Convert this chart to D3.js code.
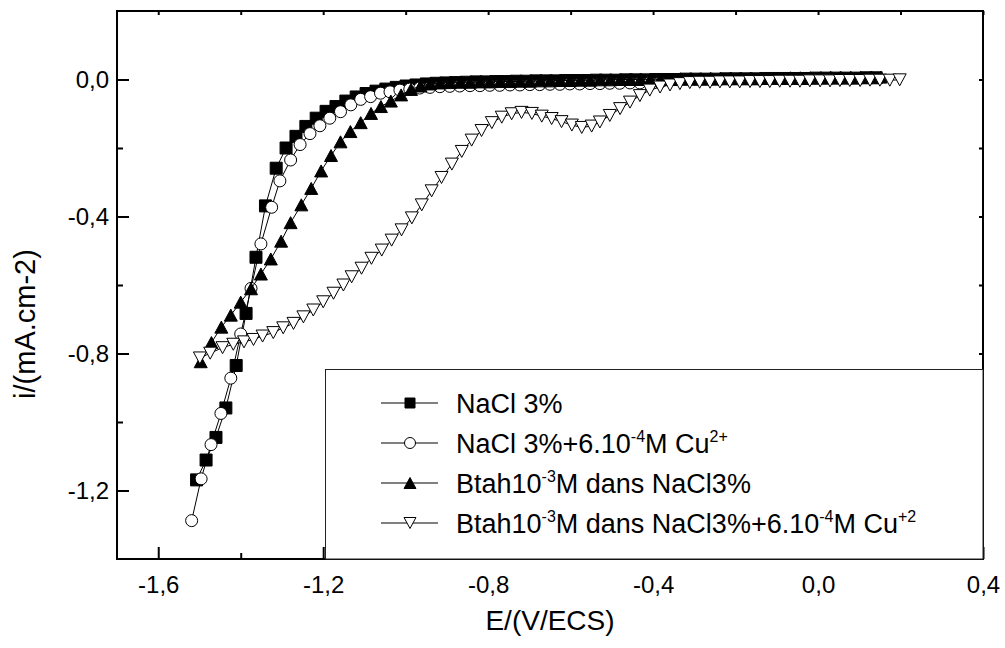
<!DOCTYPE html>
<html>
<head>
<meta charset="utf-8">
<script src="https://cdn.jsdelivr.net/npm/d3@7"></script>
<style>
body{margin:0;background:#fff;}
text{font-family:"Liberation Sans",Arial,sans-serif;fill:#000;}
</style>
</head>
<body>
<div class="mainContainer"></div>
<script>
// E (V/ECS), i (mA.cm-2)
const naclData = [[-1.507,-1.169],[-1.484,-1.111],[-1.460,-1.045],[-1.436,-0.959],[-1.411,-0.835],[-1.387,-0.683],[-1.363,-0.519],[-1.340,-0.369],[-1.314,-0.259],[-1.290,-0.200],[-1.266,-0.166],[-1.242,-0.137],[-1.217,-0.113],[-1.193,-0.093],[-1.169,-0.079],[-1.145,-0.063],[-1.120,-0.051],[-1.096,-0.041],[-1.072,-0.034],[-1.048,-0.028],[-1.023,-0.023],[-0.999,-0.019],[-0.975,-0.016],[-0.950,-0.013],[-0.926,-0.011],[-0.902,-0.010],[-0.878,-0.009],[-0.853,-0.008],[-0.829,-0.007],[-0.805,-0.007],[-0.781,-0.006],[-0.756,-0.006],[-0.732,-0.005],[-0.708,-0.005],[-0.684,-0.004],[-0.659,-0.004],[-0.635,-0.004],[-0.611,-0.003],[-0.587,-0.003],[-0.562,-0.003],[-0.538,-0.002],[-0.514,-0.002],[-0.490,-0.002],[-0.465,-0.001],[-0.441,-0.001],[-0.417,-0.001],[-0.393,0.000],[-0.368,0.000],[-0.344,0.000],[-0.320,0.001],[-0.296,0.001],[-0.271,0.001],[-0.247,0.001],[-0.223,0.002],[-0.199,0.002],[-0.174,0.002],[-0.150,0.002],[-0.126,0.003],[-0.102,0.003],[-0.077,0.003],[-0.053,0.003],[-0.029,0.003],[-0.005,0.004],[0.020,0.004],[0.044,0.004],[0.068,0.004],[0.092,0.004],[0.117,0.005],[0.141,0.005]];

const naclCuData = [[-1.519,-1.288],[-1.496,-1.166],[-1.472,-1.066],[-1.448,-0.975],[-1.424,-0.872],[-1.400,-0.743],[-1.375,-0.610],[-1.351,-0.480],[-1.325,-0.373],[-1.305,-0.296],[-1.279,-0.235],[-1.256,-0.190],[-1.232,-0.158],[-1.208,-0.135],[-1.184,-0.113],[-1.158,-0.094],[-1.133,-0.074],[-1.109,-0.058],[-1.085,-0.050],[-1.061,-0.040],[-1.038,-0.036],[-1.014,-0.031],[-0.990,-0.028],[-0.966,-0.025],[-0.941,-0.023],[-0.917,-0.021],[-0.893,-0.020],[-0.869,-0.019],[-0.844,-0.018],[-0.820,-0.018],[-0.796,-0.017],[-0.772,-0.017],[-0.747,-0.016],[-0.723,-0.016],[-0.699,-0.015],[-0.675,-0.015],[-0.650,-0.014],[-0.626,-0.014],[-0.602,-0.013],[-0.578,-0.013],[-0.553,-0.012],[-0.529,-0.012],[-0.505,-0.011],[-0.481,-0.011],[-0.456,-0.010],[-0.432,-0.010],[-0.408,-0.009],[-0.384,-0.009]];

const btahData = [[-1.497,-0.824],[-1.471,-0.768],[-1.447,-0.723],[-1.424,-0.688],[-1.400,-0.650],[-1.375,-0.611],[-1.351,-0.568],[-1.327,-0.524],[-1.302,-0.472],[-1.279,-0.418],[-1.253,-0.366],[-1.229,-0.318],[-1.205,-0.267],[-1.181,-0.222],[-1.158,-0.182],[-1.134,-0.152],[-1.109,-0.126],[-1.084,-0.099],[-1.060,-0.079],[-1.036,-0.063],[-1.011,-0.045],[-0.987,-0.029],[-0.964,-0.019],[-0.941,-0.013],[-0.917,-0.010],[-0.893,-0.009],[-0.868,-0.008],[-0.844,-0.008],[-0.820,-0.007],[-0.796,-0.007],[-0.771,-0.006],[-0.747,-0.006],[-0.723,-0.005],[-0.699,-0.005],[-0.674,-0.004],[-0.650,-0.004],[-0.626,-0.003],[-0.601,-0.003],[-0.577,-0.002],[-0.553,-0.002],[-0.529,-0.001],[-0.504,-0.001],[-0.480,0.000],[-0.456,0.000],[-0.431,0.000],[-0.407,0.001],[-0.383,0.001],[-0.359,0.001],[-0.334,0.002],[-0.310,0.002],[-0.286,0.002],[-0.261,0.003],[-0.237,0.003],[-0.213,0.003],[-0.189,0.003],[-0.164,0.004],[-0.140,0.004],[-0.116,0.004],[-0.091,0.004],[-0.067,0.005],[-0.043,0.005],[-0.019,0.005],[0.006,0.005],[0.030,0.006],[0.054,0.006],[0.079,0.006],[0.103,0.006],[0.127,0.006],[0.152,0.007]];

const btahCuData = [[-1.499,-0.813],[-1.474,-0.799],[-1.444,-0.783],[-1.418,-0.773],[-1.392,-0.766],[-1.369,-0.759],[-1.347,-0.749],[-1.321,-0.739],[-1.297,-0.725],[-1.272,-0.712],[-1.248,-0.693],[-1.224,-0.673],[-1.200,-0.649],[-1.175,-0.624],[-1.151,-0.600],[-1.131,-0.576],[-1.107,-0.551],[-1.083,-0.522],[-1.058,-0.498],[-1.034,-0.469],[-1.010,-0.439],[-0.985,-0.404],[-0.961,-0.366],[-0.937,-0.325],[-0.913,-0.286],[-0.888,-0.247],[-0.864,-0.210],[-0.840,-0.177],[-0.816,-0.149],[-0.791,-0.126],[-0.767,-0.110],[-0.743,-0.100],[-0.719,-0.096],[-0.694,-0.099],[-0.670,-0.107],[-0.646,-0.114],[-0.622,-0.123],[-0.597,-0.133],[-0.573,-0.140],[-0.549,-0.136],[-0.529,-0.124],[-0.505,-0.105],[-0.480,-0.085],[-0.456,-0.066],[-0.432,-0.047],[-0.408,-0.031],[-0.383,-0.022],[-0.359,-0.016],[-0.335,-0.012],[-0.311,-0.009],[-0.287,-0.008],[-0.262,-0.008],[-0.238,-0.007],[-0.214,-0.007],[-0.190,-0.007],[-0.165,-0.006],[-0.141,-0.006],[-0.117,-0.006],[-0.093,-0.005],[-0.068,-0.005],[-0.044,-0.005],[-0.020,-0.004],[0.005,-0.004],[0.029,-0.004],[0.053,-0.003],[0.077,-0.003],[0.102,-0.003],[0.126,-0.002],[0.150,-0.002],[0.174,-0.002],[0.198,-0.001]];

const xMajor = [-1.6,-1.2,-0.8,-0.4,0.0,0.4];
const xMinor = [-1.4,-1.0,-0.6,-0.2,0.2];
const yMajor = [0.0,-0.4,-0.8,-1.2];
const yMinor = [-0.2,-0.6,-1.0];

// legend labels, pieces flagged sup are superscripts
const legendLabels = [
    [{t:'NaCl 3%'}],
    [{t:'NaCl 3%+6.10'},{t:'-4',sup:true},{t:'M Cu'},{t:'2+',sup:true}],
    [{t:'Btah10'},{t:'-3',sup:true},{t:'M dans NaCl3%'}],
    [{t:'Btah10'},{t:'-3',sup:true},{t:'M dans NaCl3%+6.10'},{t:'-4',sup:true},{t:'M Cu'},{t:'+2',sup:true}]
];

const series = [
    {data: naclData, shape: 'square', fill: '#000'},
    {data: naclCuData, shape: 'circle', fill: '#fff'},
    {data: btahData, shape: 'up', fill: '#000'},
    {data: btahCuData, shape: 'down', fill: '#fff'}
];

const W = 866, H = 548;

const svg = d3.select('.mainContainer')
    .append('svg')
    .attr('width',1005)
    .attr('height',648);

const graph = svg.append('g')
    .attr('transform','translate(117,11)');

const x = d3.scaleLinear().domain([-1.7,0.4]).range([0,W]);
const y = d3.scaleLinear().domain([-1.4,0.2]).range([H,0]);

const fmt = d => d.toFixed(1).replace('.',',');

// marker path centred on 0,0
const markerPath = (shape, s) => {
    const h = s/2;
    switch(shape){
        case 'square': return `M${-h},${-h}H${h}V${h}H${-h}Z`;
        case 'circle': return `M${h},0A${h},${h} 0 1,1 ${-h},0A${h},${h} 0 1,1 ${h},0Z`;
        case 'up': return `M0,${-h}L${h*1.08},${h}L${-h*1.08},${h}Z`;
        case 'down': return `M0,${h}L${h*1.08},${-h}L${-h*1.08},${-h}Z`;
    }
};

// ticks, all pointing inwards
graph.append('g').attr('transform',`translate(0,${H})`)
    .call(d3.axisBottom(x).tickValues(xMajor).tickSize(-12).tickSizeOuter(0).tickPadding(17).tickFormat(fmt));
graph.append('g').attr('transform',`translate(0,${H})`)
    .call(d3.axisBottom(x).tickValues(xMinor).tickSize(-6).tickSizeOuter(0).tickFormat(''));
graph.append('g')
    .call(d3.axisLeft(y).tickValues(yMajor).tickSize(-12).tickSizeOuter(0).tickPadding(8).tickFormat(fmt));
graph.append('g')
    .call(d3.axisLeft(y).tickValues(yMinor).tickSize(-6).tickSizeOuter(0).tickFormat(''));
graph.append('g')
    .call(d3.axisTop(x).tickValues(xMajor.concat(xMinor)).tickSize(-4).tickSizeOuter(0).tickFormat(''));
graph.append('g').attr('transform',`translate(${W},0)`)
    .call(d3.axisRight(y).tickValues(yMajor.concat(yMinor)).tickSize(-4).tickSizeOuter(0).tickFormat(''));

graph.selectAll('.domain').remove();
graph.selectAll('.tick line').attr('stroke','#000').attr('stroke-width',2);
graph.selectAll('.tick text').attr('font-size',24).attr('fill','#000')
    .attr('font-family','"Liberation Sans",Arial,sans-serif');

// series
const line = d3.line().x(d => x(d[0])).y(d => y(d[1]));
series.forEach(s => {
    const g = graph.append('g');
    g.append('path')
        .attr('d', line(s.data))
        .attr('fill','none')
        .attr('stroke','#000')
        .attr('stroke-width',1);
    g.selectAll('path.m')
        .data(s.data)
        .enter()
        .append('path')
        .attr('class','m')
        .attr('d', markerPath(s.shape, 12))
        .attr('transform', d => `translate(${x(d[0])},${y(d[1])})`)
        .attr('fill', s.fill)
        .attr('stroke','#000')
        .attr('stroke-width',1);
});

// legend
const legend = svg.append('g');
legend.append('rect')
    .attr('x',325.5).attr('y',369.5)
    .attr('width',983-325.5).attr('height',559-369.5)
    .attr('fill','#fff')
    .attr('stroke','#222')
    .attr('stroke-width',1);

legendLabels.forEach((parts, i) => {
    const ly = 403 + i*40;
    legend.append('line')
        .attr('x1',381).attr('x2',438).attr('y1',ly).attr('y2',ly)
        .attr('stroke','#000').attr('stroke-width',1);
    legend.append('path')
        .attr('d', markerPath(series[i].shape, series[i].shape === 'square' ? 10 : 11))
        .attr('transform',`translate(410,${ly})`)
        .attr('fill', series[i].fill)
        .attr('stroke','#000');
    const txt = legend.append('text')
        .attr('x',456).attr('y',ly + 10)
        .attr('font-size',27);
    let up = false;
    parts.forEach(p => {
        const ts = txt.append('tspan').text(p.t);
        if(p.sup && !up){ ts.attr('dy',-11).attr('font-size',16); up = true; }
        else if(p.sup){ ts.attr('font-size',16); }
        else if(up){ ts.attr('dy',11); up = false; }
    });
});

// frame
graph.append('rect')
    .attr('width',W).attr('height',H)
    .attr('fill','none')
    .attr('stroke','#000')
    .attr('stroke-width',2);

// axis titles
svg.append('text')
    .attr('x',117 + W/2).attr('y',630)
    .attr('text-anchor','middle')
    .attr('font-size',28)
    .text('E/(V/ECS)');

svg.append('text')
    .attr('transform','translate(35,324) rotate(-90)')
    .attr('text-anchor','middle')
    .attr('font-size',29)
    .text('i/(mA.cm-2)');
</script>
</body>
</html>
